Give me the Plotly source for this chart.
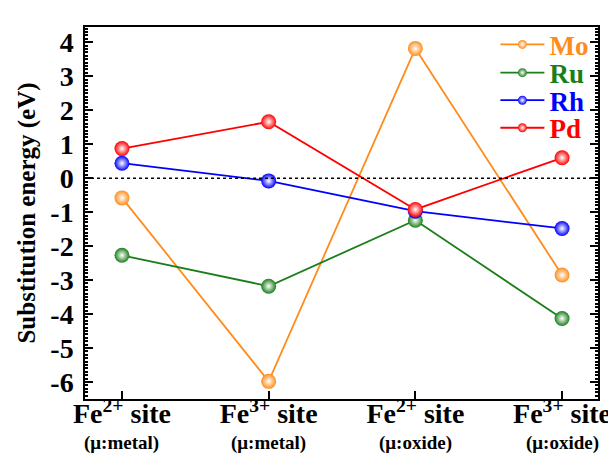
import plotly.graph_objects as go

sites = ["Fe<sup>2+</sup> site", "Fe<sup>3+</sup> site", "Fe<sup>2+</sup> site", "Fe<sup>3+</sup> site"]
conditions = ["(μ:metal)", "(μ:metal)", "(μ:oxide)", "(μ:oxide)"]
x_pos = [0, 1, 2, 3]
y_ticks = [-6, -5, -4, -3, -2, -1, 0, 1, 2, 3, 4]

mo = [-0.58, -5.98, 3.82, -2.85]
ru = [-2.27, -3.18, -1.24, -4.13]
rh = [0.44, -0.08, -0.97, -1.48]
pd_ = [0.87, 1.66, -0.92, 0.6]

series = [("Mo", mo, "#ff8c1a"), ("Ru", ru, "#1a7f1a"), ("Rh", rh, "#0000ff"), ("Pd", pd_, "#ff0000")]
legend_ids = ["legend", "legend2", "legend3", "legend4"]
legend_y = [0.952, 0.876, 0.802, 0.728]

fig = go.Figure()
for name, vals, col in series:
    fig.add_trace(go.Scatter(
        x=x_pos, y=vals, mode="lines+markers", showlegend=False,
        line=dict(color=col, width=1.8),
        marker=dict(size=15, color=col, gradient=dict(type="radial", color="#ffffff"),
                    line=dict(width=0)),
    ))
# legend entries (small symbols like the reference), one legend box per entry
for (name, vals, col), lid in zip(series, legend_ids):
    fig.add_trace(go.Scatter(
        x=[None], y=[None], mode="lines+markers", legend=lid,
        name=f"<span style='color:{col}'><b>{name}</b></span>",
        line=dict(color=col, width=1.8),
        marker=dict(size=9, color=col, gradient=dict(type="radial", color="#ffffff"),
                    line=dict(width=0)),
    ))

fig.add_hline(y=0, line=dict(color="black", width=1.5, dash="dot"))

for xp, c in zip(x_pos, conditions):
    fig.add_annotation(x=xp, y=-0.117, xref="x", yref="paper", yanchor="middle", text=f"<b>{c}</b>",
                       showarrow=False, borderpad=0,
                       font=dict(size=19, color="black", family="Liberation Serif"))

legend_common = dict(x=0.80, xanchor="left", yanchor="middle", bgcolor="rgba(0,0,0,0)",
                     font=dict(size=27, family="Liberation Serif"), itemwidth=44, borderwidth=0)

fig.update_layout(
    width=616, height=453,
    margin=dict(l=77, r=26, t=13, b=62),
    paper_bgcolor="white", plot_bgcolor="white",
    font=dict(family="Liberation Serif", color="black"),
    showlegend=True,
    xaxis=dict(range=[-0.252, 3.245], tickvals=x_pos, ticktext=[f"<b>{s}</b>" for s in sites],
               tickfont=dict(size=28, family="Liberation Serif"),
               ticks="inside", ticklen=8, tickcolor="black", tickwidth=1.5,
               ticklabelstandoff=-11,
               showline=True, linecolor="black", linewidth=1.5, mirror=True,
               showgrid=False, zeroline=False),
    yaxis=dict(range=[-6.5, 4.45], tickvals=y_ticks,
               ticktext=[f"<b>{v}</b>" for v in y_ticks],
               tickfont=dict(size=28, family="Liberation Serif"),
               ticks="inside", ticklen=8, tickcolor="black", tickwidth=1.5,
               ticklabelstandoff=4,
               minor=dict(ticks="inside", ticklen=3, dtick=0.1, tickcolor="black"),
               showline=True, linecolor="black", linewidth=1.5, mirror="allticks",
               showgrid=False, zeroline=False,
               title=dict(text="<b>Substitution energy (eV)</b>", font=dict(size=25, family="Liberation Serif"),
                          standoff=8)),
)
for lid, ly in zip(legend_ids, legend_y):
    fig.update_layout({lid: dict(y=ly, **legend_common)})

fig.write_html("out.html")
